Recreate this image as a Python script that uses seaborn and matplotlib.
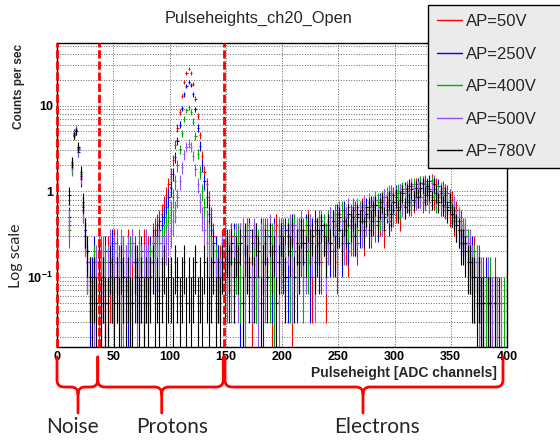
import numpy as np
import pandas as pd
import matplotlib
matplotlib.use("Agg")
import matplotlib.pyplot as plt
from matplotlib.path import Path
from matplotlib.patches import PathPatch
from matplotlib.lines import Line2D
from matplotlib.ticker import MultipleLocator, NullFormatter
import seaborn as sns

# counts were taken over 20 s -> counts per sec = counts / LIVE_TIME
LIVE_TIME = 20.0
BIN_WIDTH = 2
channels = np.arange(1, 400, BIN_WIDTH)  # bin centres, 200 bins of 2 ADC channels

series_labels = ["AP=50V", "AP=250V", "AP=400V", "AP=500V", "AP=780V"]
series_colors = ["#ff0000", "#0000ff", "#00b000", "#9450f0", "#000000"]

# counts per bin, rows of 20 bins (40 channels)
ap50_counts = [
    0, 0, 0, 0, 0, 8, 38, 92, 104, 62, 30, 12, 6, 3, 2, 0, 3, 1, 4, 2,
    3, 1, 4, 2, 0, 5, 2, 3, 1, 4, 2, 5, 1, 3, 4, 2, 0, 3, 5, 2,
    4, 3, 6, 7, 8, 9, 11, 14, 18, 24, 32, 46, 70, 110, 170, 260, 380, 480, 540, 480,
    360, 240, 150, 90, 52, 34, 24, 16, 10, 6, 4, 3, 3, 5, 2, 4, 3, 6, 2, 4,
    3, 6, 2, 4, 7, 3, 1, 5, 6, 2, 4, 2, 7, 3, 5, 1, 4, 8, 2, 5,
    6, 2, 7, 4, 1, 8, 5, 3, 4, 7, 5, 9, 3, 2, 7, 5, 8, 3, 6, 2,
    7, 10, 4, 8, 3, 11, 6, 9, 5, 4, 11, 6, 12, 5, 9, 13, 6, 10, 12, 7,
    13, 8, 14, 9, 16, 7, 15, 11, 10, 18, 12, 19, 10, 20, 13, 22, 14, 23, 15, 24,
    17, 25, 15, 26, 18, 21, 27, 16, 24, 18, 14, 22, 13, 19, 11, 16, 9, 12, 7, 9,
    7, 6, 5, 4, 3, 4, 2, 3, 1, 2, 1, 2, 0, 1, 2, 1, 0, 1, 0, 0,
]
ap250_counts = [
    0, 0, 0, 0, 0, 10, 42, 96, 102, 58, 28, 13, 7, 3, 1, 2, 4, 2, 3, 1,
    2, 4, 1, 3, 5, 2, 3, 0, 4, 2, 3, 1, 4, 5, 2, 3, 2, 4, 1, 3,
    3, 4, 5, 5, 6, 7, 8, 10, 13, 17, 22, 32, 50, 78, 120, 185, 270, 340, 380, 350,
    270, 180, 110, 68, 40, 26, 17, 11, 7, 5, 4, 3, 2, 4, 3, 5, 2, 4, 6, 3,
    5, 1, 6, 3, 4, 7, 2, 6, 2, 4, 7, 1, 3, 6, 4, 2, 7, 3, 6, 4,
    3, 7, 2, 6, 8, 4, 2, 7, 5, 3, 8, 4, 2, 7, 9, 4, 3, 7, 8, 5,
    8, 4, 9, 6, 11, 7, 4, 12, 8, 5, 9, 12, 6, 10, 7, 12, 9, 13, 7, 14,
    9, 14, 8, 15, 10, 17, 12, 9, 18, 12, 19, 13, 20, 14, 21, 15, 23, 16, 22, 17,
    24, 17, 25, 16, 22, 26, 17, 24, 16, 23, 20, 14, 20, 13, 15, 11, 12, 8, 9, 6,
    6, 5, 4, 3, 4, 2, 3, 2, 1, 1, 2, 1, 1, 0, 1, 0, 1, 0, 0, 0,
]
ap400_counts = [
    0, 0, 0, 0, 0, 7, 36, 88, 100, 64, 32, 14, 6, 4, 2, 1, 3, 2, 1, 4,
    2, 3, 1, 4, 2, 3, 5, 1, 2, 4, 3, 2, 4, 1, 3, 2, 5, 3, 2, 4,
    2, 3, 4, 4, 4, 5, 5, 6, 8, 10, 12, 17, 26, 40, 62, 95, 140, 175, 190, 170,
    130, 88, 55, 34, 20, 13, 9, 6, 4, 3, 3, 2, 2, 3, 5, 2, 4, 3, 5, 3,
    6, 2, 4, 1, 7, 4, 2, 6, 2, 5, 3, 6, 4, 7, 2, 6, 1, 4, 7, 3,
    6, 3, 7, 2, 5, 8, 3, 7, 5, 2, 7, 3, 8, 5, 3, 7, 9, 4, 8, 6,
    9, 5, 7, 11, 5, 9, 12, 6, 10, 8, 6, 13, 9, 7, 12, 9, 14, 10, 12, 8,
    14, 9, 15, 10, 16, 11, 18, 12, 19, 11, 16, 20, 13, 21, 15, 22, 16, 14, 24, 17,
    20, 25, 19, 16, 24, 18, 25, 21, 15, 20, 17, 19, 20, 15, 16, 12, 13, 9, 10, 7,
    7, 6, 5, 4, 3, 3, 2, 2, 2, 1, 1, 1, 2, 0, 1, 1, 0, 0, 1, 0,
]
ap500_counts = [
    0, 0, 0, 0, 0, 9, 40, 94, 106, 60, 30, 12, 6, 3, 2, 0, 1, 3, 4, 2,
    4, 1, 3, 5, 2, 4, 3, 2, 5, 1, 3, 4, 2, 5, 3, 1, 4, 2, 3, 5,
    3, 2, 3, 3, 3, 3, 4, 4, 5, 6, 7, 9, 12, 17, 26, 38, 54, 66, 72, 66,
    52, 36, 24, 15, 10, 7, 5, 4, 3, 3, 2, 2, 2, 4, 6, 3, 5, 2, 4, 6,
    2, 6, 7, 1, 4, 6, 2, 7, 4, 1, 6, 7, 2, 4, 8, 3, 6, 4, 1, 7,
    7, 3, 5, 8, 2, 6, 7, 3, 9, 5, 3, 7, 8, 4, 2, 7, 5, 9, 6, 3,
    5, 10, 7, 9, 4, 12, 7, 5, 10, 13, 8, 10, 6, 13, 11, 7, 14, 9, 15, 10,
    13, 16, 10, 14, 9, 17, 13, 19, 11, 15, 18, 12, 20, 14, 19, 21, 15, 24, 18, 16,
    22, 17, 25, 18, 23, 15, 21, 26, 18, 17, 21, 15, 20, 14, 17, 11, 14, 9, 10, 6,
    6, 7, 4, 5, 3, 2, 3, 1, 2, 1, 0, 2, 1, 1, 0, 1, 0, 1, 0, 0,
]
ap780_counts = [
    0, 0, 0, 0, 0, 18, 44, 90, 100, 66, 34, 15, 7, 4, 2, 1, 2, 1, 3, 1,
    2, 1, 1, 3, 2, 1, 2, 1, 3, 2, 1, 2, 1, 1, 3, 2, 1, 2, 1, 2,
    1, 2, 3, 1, 2, 1, 2, 3, 1, 2, 2, 1, 3, 2, 1, 2, 3, 1, 2, 1,
    2, 3, 1, 2, 1, 3, 2, 1, 2, 3, 1, 2, 1, 3, 2, 4, 3, 5, 2, 4,
    3, 5, 1, 6, 3, 2, 5, 2, 6, 4, 1, 3, 5, 2, 6, 3, 4, 1, 3, 6,
    4, 2, 6, 4, 7, 2, 5, 3, 7, 5, 4, 8, 5, 6, 3, 7, 5, 8, 6, 4,
    8, 5, 9, 4, 7, 10, 5, 9, 7, 11, 8, 10, 6, 11, 9, 12, 7, 11, 13, 9,
    12, 14, 9, 13, 15, 10, 14, 16, 11, 15, 17, 12, 16, 19, 13, 20, 15, 21, 16, 22,
    17, 22, 24, 18, 23, 20, 16, 24, 19, 15, 19, 14, 18, 12, 15, 11, 10, 8, 7, 5,
    5, 4, 3, 3, 2, 2, 1, 2, 1, 1, 0, 1, 1, 0, 1, 0, 0, 0, 0, 0,
]
all_counts = [ap50_counts, ap250_counts, ap400_counts, ap500_counts, ap780_counts]

# region borders (ADC channels) and names
region_edges = [0, 37, 148.5]
region_names = ["Noise", "Protons", "Electrons"]

frames = []
for label, counts in zip(series_labels, all_counts):
    frames.append(pd.DataFrame({"channel": channels, "counts": counts, "series": label}))
df = pd.concat(frames, ignore_index=True)
df = df[df["counts"] > 0].copy()
df["rate"] = df["counts"] / LIVE_TIME
df["err"] = np.sqrt(df["counts"]) / LIVE_TIME

sns.set_theme(style="white")
plt.rcParams['font.family'] = ['Liberation Sans', 'DejaVu Sans']
plt.rcParams['mathtext.fontset'] = 'custom'
plt.rcParams['mathtext.rm'] = 'Liberation Sans'
plt.rcParams['mathtext.bf'] = 'Liberation Sans:bold'

fig = plt.figure(figsize=(5.6, 4.41), dpi=100)
fig.patch.set_facecolor("white")
ax = fig.add_axes([57 / 560, 1 - 347 / 441, 450 / 560, 304 / 441])

for label, color in zip(series_labels, series_colors):
    d = df[df["series"] == label]
    lo = np.minimum(d["err"].values, d["rate"].values * 0.9999)
    ax.errorbar(d["channel"], d["rate"], xerr=BIN_WIDTH / 2, yerr=[lo, d["err"].values],
                fmt="none", ecolor=color, elinewidth=0.8, capsize=0)

ax.set_yscale("log")
ax.set_xlim(0, 400)
ax.set_ylim(0.01527, 53.6)

ax.set_xticks(np.arange(0, 401, 50), [str(v) for v in range(0, 401, 50)], fontweight="bold")
ax.xaxis.set_minor_locator(MultipleLocator(10))
ax.set_yticks([0.1, 1, 10], [r"$\mathbf{10^{-1}}$", "1", "10"], fontweight="bold")
minor_y = [m * 10.0 ** e for e in (-2, -1, 0, 1) for m in range(2, 10)]
minor_y = [v for v in minor_y if 0.01527 < v < 53.6]
ax.set_yticks(minor_y, minor=True)
ax.yaxis.set_minor_formatter(NullFormatter())

ax.tick_params(which="both", direction="in", top=False, right=False, labelsize=9,
               colors="black", width=0.8)
ax.tick_params(which="major", length=9, pad=3)
ax.tick_params(which="minor", length=5)
ax.tick_params(axis="x", which="major", length=7)
ax.tick_params(axis="x", which="minor", length=4)

ax.set_axisbelow(True)
ax.xaxis.grid(True, which="major", ls=":", color="#666666", lw=0.7)
ax.yaxis.grid(True, which="both", ls=":", color="#666666", lw=0.7)
for sp in ax.spines.values():
    sp.set_color("black")
    sp.set_linewidth(1.0)

for x in region_edges:
    ax.axvline(x, color="red", lw=2, ls=(0, (3, 1)), clip_on=False, zorder=5)

# overlay in pixel coordinates for the annotations
ov = fig.add_axes([0, 0, 1, 1])
ov.set_xlim(0, 560)
ov.set_ylim(441, 0)
ov.axis("off")


def brace(xa, xb, xm, y0=357, y1=387, y2=413, r=7):
    verts = [(xa, y0), (xa, y1 - r), (xa, y1), (xa + r, y1), (xm - r, y1), (xm, y1), (xm, y1 + r), (xm, y2),
             (xm, y1 + r), (xm, y1), (xm + r, y1), (xb - r, y1), (xb, y1), (xb, y1 - r), (xb, y0)]
    codes = [Path.MOVETO, Path.LINETO, Path.CURVE3, Path.CURVE3, Path.LINETO, Path.CURVE3, Path.CURVE3, Path.LINETO,
             Path.MOVETO, Path.CURVE3, Path.CURVE3, Path.LINETO, Path.CURVE3, Path.CURVE3, Path.LINETO]
    ov.add_patch(PathPatch(Path(verts, codes), fill=False, edgecolor="red", lw=2, capstyle="round"))


brace(57, 97.7, 78)
brace(97.7, 223.3, 161.7)
brace(225, 503, 363)

for name, xc in zip(region_names, [72, 172, 377]):
    ov.text(xc, 427, name, ha="center", va="center", fontsize=15, family=["Lato", "DejaVu Sans"])

ov.text(259, 18, "Pulseheights_ch20_Open", ha="center", va="center", fontsize=11.8)
ov.text(19, 86, "Counts per sec", ha="center", va="center", rotation=90, fontsize=8.5, fontweight="bold")
ov.text(16, 256, "Log scale", ha="center", va="center", rotation=90, fontsize=11.5, family=["Lato", "DejaVu Sans"])
ov.text(497, 373, "Pulseheight [ADC channels]", ha="right", va="center", fontsize=10, fontweight="bold")

handles = [Line2D([], [], color=c, lw=1) for c in series_colors]
leg = fig.legend(handles, series_labels, loc="upper left",
                 bbox_to_anchor=(428 / 560, 1 - 175 / 441, 140 / 560, 170 / 441), mode="expand",
                 bbox_transform=fig.transFigure, fontsize=12, handlelength=1.5, handletextpad=0.25,
                 labelspacing=1.05, borderpad=0.55, borderaxespad=0, frameon=True, fancybox=False,
                 facecolor="#ebebeb", edgecolor="black", framealpha=1)
leg.get_frame().set_linewidth(1.0)

fig.savefig("out.png", dpi=100)
